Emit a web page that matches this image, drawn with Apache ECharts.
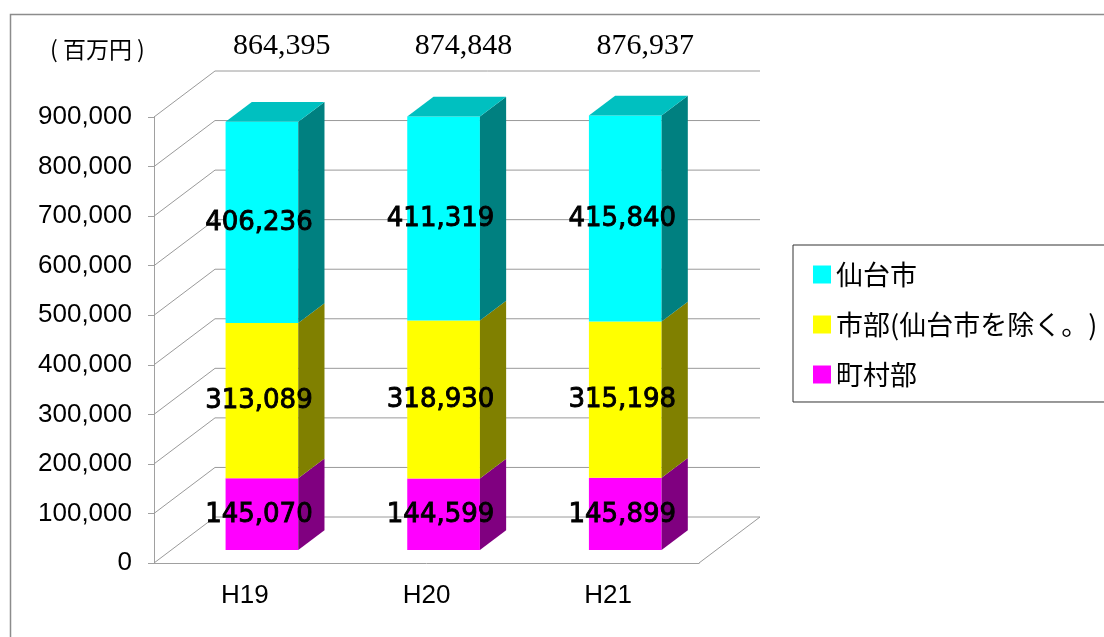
<!DOCTYPE html>
<html><head><meta charset="utf-8">
<script src="https://cdn.jsdelivr.net/npm/echarts@6/dist/echarts.min.js"></script>
<style>html,body{margin:0;padding:0;background:#fff}#c{width:1104px;height:637px}</style>
</head><body><div id="c"></div>
<script>
// ---- data ----
var categories = ['H19', 'H20', 'H21'];
var seriesNames = ['町村部', '市部(仙台市を除く。)', '仙台市'];
var chosonbu = [145070, 144599, 145899];   // 町村部
var shibu = [313089, 318930, 315198];      // 市部(仙台市を除く。)
var sendai = [406236, 411319, 415840];     // 仙台市
var totals = [864395, 874848, 876937];
var yTicks = [0, 100000, 200000, 300000, 400000, 500000, 600000, 700000, 800000, 900000];
var unitLabel = '( 百万円 )';

// ---- styles ----
var layers = [chosonbu, shibu, sendai];
var frontColors = ['#FF00FF', '#FFFF00', '#00FFFF'];
var sideColors = ['#800080', '#808000', '#008080'];
var topColors = ['#C000C0', '#C0C000', '#00C0C0'];
var DX = 61, DY = 46;      // depth of the 3D box (px)
var F0 = 0.28, FD = 0.43;  // bar front position and bar depth as fraction
var BAR_W = 0.40;          // bar width relative to band

function fmt(v) { return String(v).replace(/\B(?=(\d{3})+(?!\d))/g, ','); }

var chart = echarts.init(document.getElementById('c'));

// back wall grid
var wallSeries = {
  type: 'custom', name: '_wall', silent: true, z: 1, clip: false,
  data: yTicks.map(function (v) { return [0, v]; }),
  renderItem: function (params, api) {
    var cs = params.coordSys;
    var v = api.value(1);
    var y = api.coord([0, v])[1];
    var x0 = cs.x, x1 = cs.x + cs.width;
    var ls = { stroke: '#9a9a9a', lineWidth: 1, fill: null };
    var children = [
      { type: 'polyline', shape: { points: [[x0, y], [x0 + DX, y - DY], [x1 + DX, y - DY]] }, style: ls }
    ];
    if (v === 0) {
      children.push({ type: 'line', shape: { x1: x1, y1: y, x2: x1 + DX, y2: y - DY }, style: ls });
    }
    return { type: 'group', children: children };
  }
};

function makeBarSeries(k) {
  var data = categories.map(function (c, i) {
    var base = 0;
    for (var j = 0; j < k; j++) base += layers[j][i];
    return [i, base, base + layers[k][i], layers[k][i]];
  });
  return {
    type: 'custom', name: seriesNames[k], z: 2, clip: false,
    itemStyle: { color: frontColors[k] },
    data: data,
    renderItem: function (params, api) {
      var cat = api.value(0), lo = api.value(1), hi = api.value(2), val = api.value(3);
      var band = api.size([1, 0])[0];
      var cb = api.coord([cat, lo]), ct = api.coord([cat, hi]);
      var w = band * BAR_W;
      var ox = DX * F0, oy = DY * F0;
      var x0 = cb[0] - w / 2 + ox, x1 = x0 + w;
      var yb = cb[1] - oy, yt = ct[1] - oy;
      var dx = DX * FD, dy = DY * FD;
      var children = [
        { type: 'polygon', shape: { points: [[x0, yb], [x1, yb], [x1, yt], [x0, yt]] },
          style: { fill: frontColors[k] } },
        { type: 'polygon', shape: { points: [[x1, yb], [x1 + dx, yb - dy], [x1 + dx, yt - dy], [x1, yt]] },
          style: { fill: sideColors[k] } }
      ];
      if (k === layers.length - 1) {
        children.push({ type: 'polygon', shape: { points: [[x0, yt], [x1, yt], [x1 + dx, yt - dy], [x0 + dx, yt - dy]] },
          style: { fill: topColors[k] } });
      }
      children.push({
        type: 'text', z2: 100,
        x: (x0 + x1) / 2 - 3, y: (yb + yt) / 2 + 1,
        style: { text: fmt(val), fill: '#000', stroke: '#000', lineWidth: 0.9, font: '26px "DejaVu Sans"',
          textAlign: 'center', align: 'center', textVerticalAlign: 'middle', verticalAlign: 'middle' }
      });
      return { type: 'group', children: children };
    }
  };
}

var totalSeries = {
  type: 'custom', name: '_total', silent: true, z: 3, clip: false,
  data: totals.map(function (t, i) { return [i, t]; }),
  renderItem: function (params, api) {
    var cs = params.coordSys;
    var p = api.coord([api.value(0), 0]);
    return {
      type: 'text', x: p[0] + 37, y: cs.y - 71,
      style: { text: fmt(api.value(1)), fill: '#000', font: '30px "Liberation Serif"',
        textAlign: 'center', align: 'center', textVerticalAlign: 'middle', verticalAlign: 'middle' }
    };
  }
};

var option = {
  backgroundColor: '#fff',
  animation: false,
  graphic: [
    { type: 'rect', left: 8, top: 12, shape: { width: 1200, height: 700 }, silent: true,
      style: { fill: null, stroke: '#8c8c8c', lineWidth: 1.5 } },
    { type: 'text', left: 50, top: 38,
      style: { text: unitLabel, fill: '#000', font: '23px "Noto Sans CJK JP"' } }
  ],
  legend: {
    orient: 'vertical', left: 793, top: 245,
    data: [seriesNames[2], seriesNames[1], seriesNames[0]],
    icon: 'rect', itemWidth: 18, itemHeight: 18, itemGap: 23,
    padding: [16, 20, 14, 20],
    borderColor: '#333', borderWidth: 1, backgroundColor: '#fff',
    textStyle: { fontFamily: 'Noto Sans CJK JP', fontSize: 27, color: '#000' }
  },
  grid: { left: 154, right: 405, top: 117, bottom: 74, containLabel: false },
  xAxis: {
    type: 'category', data: categories, boundaryGap: true,
    axisLine: { lineStyle: { color: '#a0a0a0' } },
    axisTick: { length: 7, lineStyle: { color: '#a0a0a0' } },
    axisLabel: { fontFamily: 'Liberation Sans', fontSize: 26, color: '#000', margin: 20 }
  },
  yAxis: {
    type: 'value', min: 0, max: 900000, interval: 100000,
    axisLine: { show: true, lineStyle: { color: '#a0a0a0' } },
    axisTick: { show: true, length: 6, lineStyle: { color: '#a0a0a0' } },
    splitLine: { show: false },
    axisLabel: { fontFamily: 'Liberation Sans', fontSize: 26, color: '#000', margin: 22,
      formatter: function (v) { return fmt(v); } }
  },
  series: [wallSeries, makeBarSeries(0), makeBarSeries(1), makeBarSeries(2), totalSeries]
};
chart.setOption(option);
</script>
</body></html>
